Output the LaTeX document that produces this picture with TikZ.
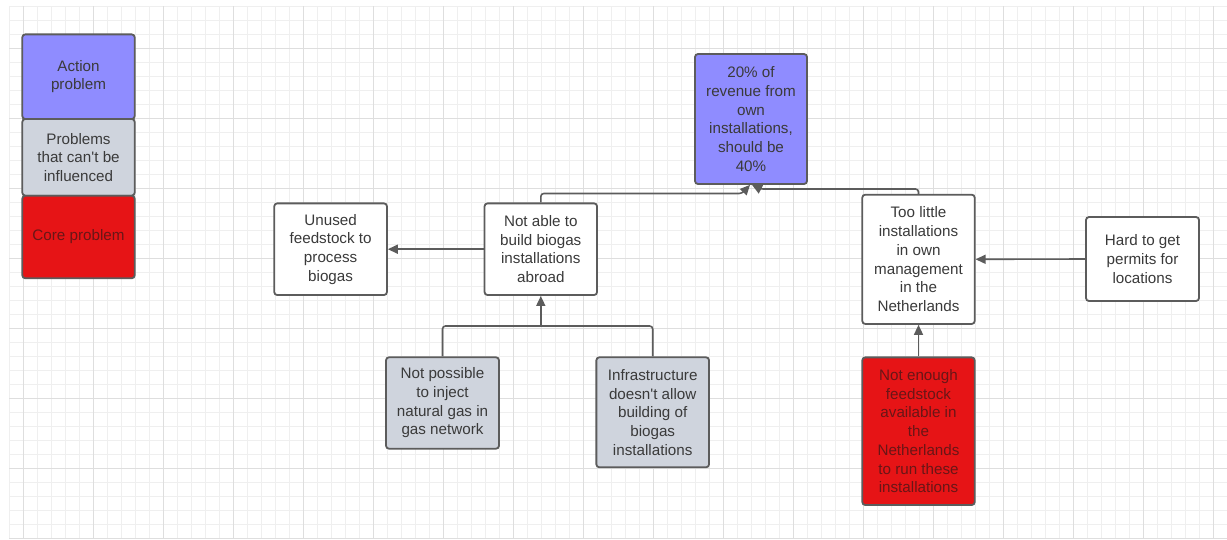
\documentclass[tikz,border=0pt]{standalone}
\usepackage{fontspec}
\setmainfont{Liberation Sans}[Ligatures=TeXOff]
\usetikzlibrary{arrows.meta}

\definecolor{gridminor}{RGB}{239,239,239}
\definecolor{gridmajor}{RGB}{222,222,222}
\definecolor{edgegray}{RGB}{92,92,92}
\definecolor{txtgray}{RGB}{58,58,58}
\definecolor{actfill}{RGB}{143,140,255}
\definecolor{fixedfill}{RGB}{207,212,221}
\definecolor{corefill}{RGB}{230,20,22}
\definecolor{coretxt}{RGB}{105,22,22}

\tikzset{
  box/.style={draw=edgegray, line width=1.8pt, rounded corners=3pt,
    rectangle, inner sep=0pt, align=center, text=txtgray,
    font=\fontsize{15.2}{18.7}\selectfont},
  plainbox/.style={box, fill=white},
  actbox/.style={box, fill=actfill},
  fixedbox/.style={box, fill=fixedfill},
  corebox/.style={box, fill=corefill, text=coretxt},
  link/.style={draw=edgegray, line width=1.6pt, rounded corners=3pt},
  arr/.style={link, -{Triangle[length=10pt,width=9pt]}}
}

\begin{document}
\begin{tikzpicture}[x=1pt,y=-1pt]
  \useasboundingbox (0,0) rectangle (1227,539);
  \fill[white] (0,0) rectangle (1227,539);

  % background grid
  \foreach \k in {0,...,87}
    \draw[gridminor, line width=1pt] ({9.3+14*\k},6.3) -- ({9.3+14*\k},539);
  \foreach \k in {0,...,38}
    \draw[gridminor, line width=1pt] (9.3,{6.3+14*\k}) -- (1227,{6.3+14*\k});
  \foreach \k in {0,...,17}
    \draw[gridmajor, line width=1pt] ({23.3+70*\k},6.3) -- ({23.3+70*\k},539);
  \foreach \k in {0,...,7}
    \draw[gridmajor, line width=1pt] (9.3,{48.3+70*\k}) -- (1227,{48.3+70*\k});

  % legend
  \node[actbox, minimum width=112.4pt, minimum height=84.7pt] (lact) at (78.5,76.7) {Action\\problem};
  \node[fixedbox, minimum width=112.4pt, minimum height=76.7pt] (lfix) at (78.5,157.3) {Problems\\that can't be\\influenced};
  \node[corebox, minimum width=112.4pt, minimum height=82.6pt] (lcore) at (78.5,237) {Core problem};

  % problem tree
  \node[actbox, minimum width=112pt, minimum height=130pt] (top) at (751,119)
    {20\% of\\revenue from\\own\\installations,\\should be\\40\%};
  \node[plainbox, minimum width=112.7pt, minimum height=91.7pt] (unused) at (330.6,249.2)
    {Unused\\feedstock to\\process\\biogas};
  \node[plainbox, minimum width=112.5pt, minimum height=91.7pt] (abroad) at (540.8,249.2)
    {Not able to\\build biogas\\installations\\abroad};
  \node[plainbox, minimum width=112.4pt, minimum height=129.3pt] (little) at (918.5,259.3)
    {Too little\\installations\\in own\\management\\in the\\Netherlands};
  \node[plainbox, minimum width=113pt, minimum height=84pt] (permits) at (1142.5,259)
    {Hard to get\\permits for\\locations};
  \node[fixedbox, minimum width=113pt, minimum height=91.4pt] (inject) at (442.5,403)
    {Not possible\\to inject\\natural gas in\\gas network};
  \node[fixedbox, minimum width=112.7pt, minimum height=110pt] (infra) at (652.7,412.3)
    {Infrastructure\\doesn't allow\\building of\\biogas\\installations};
  \node[corebox, minimum width=112.4pt, minimum height=147.7pt] (feed) at (918.5,431.2)
    {Not enough\\feedstock\\available in\\the\\Netherlands\\to run these\\installations};

  % connectors
  \coordinate (jl) at (742,193.5);
  \coordinate (jr) at (760,189);
  \coordinate (jb) at (540.8,326);
  \draw[arr] (abroad.north) |- (jl) -- ([xshift=-1pt]top.south);
  \draw[arr] (little.north) |- (jr) -- ([xshift=1pt]top.south);
  \draw[arr] (abroad.west) -- (unused.east);
  \draw[link] (inject.north) |- (jb) -| (infra.north);
  \draw[arr] (jb) -- (abroad.south);
  \draw[arr] (feed.north) -- (little.south);
  \draw[arr] (permits.west) -- (little.east);
\end{tikzpicture}
\end{document}
